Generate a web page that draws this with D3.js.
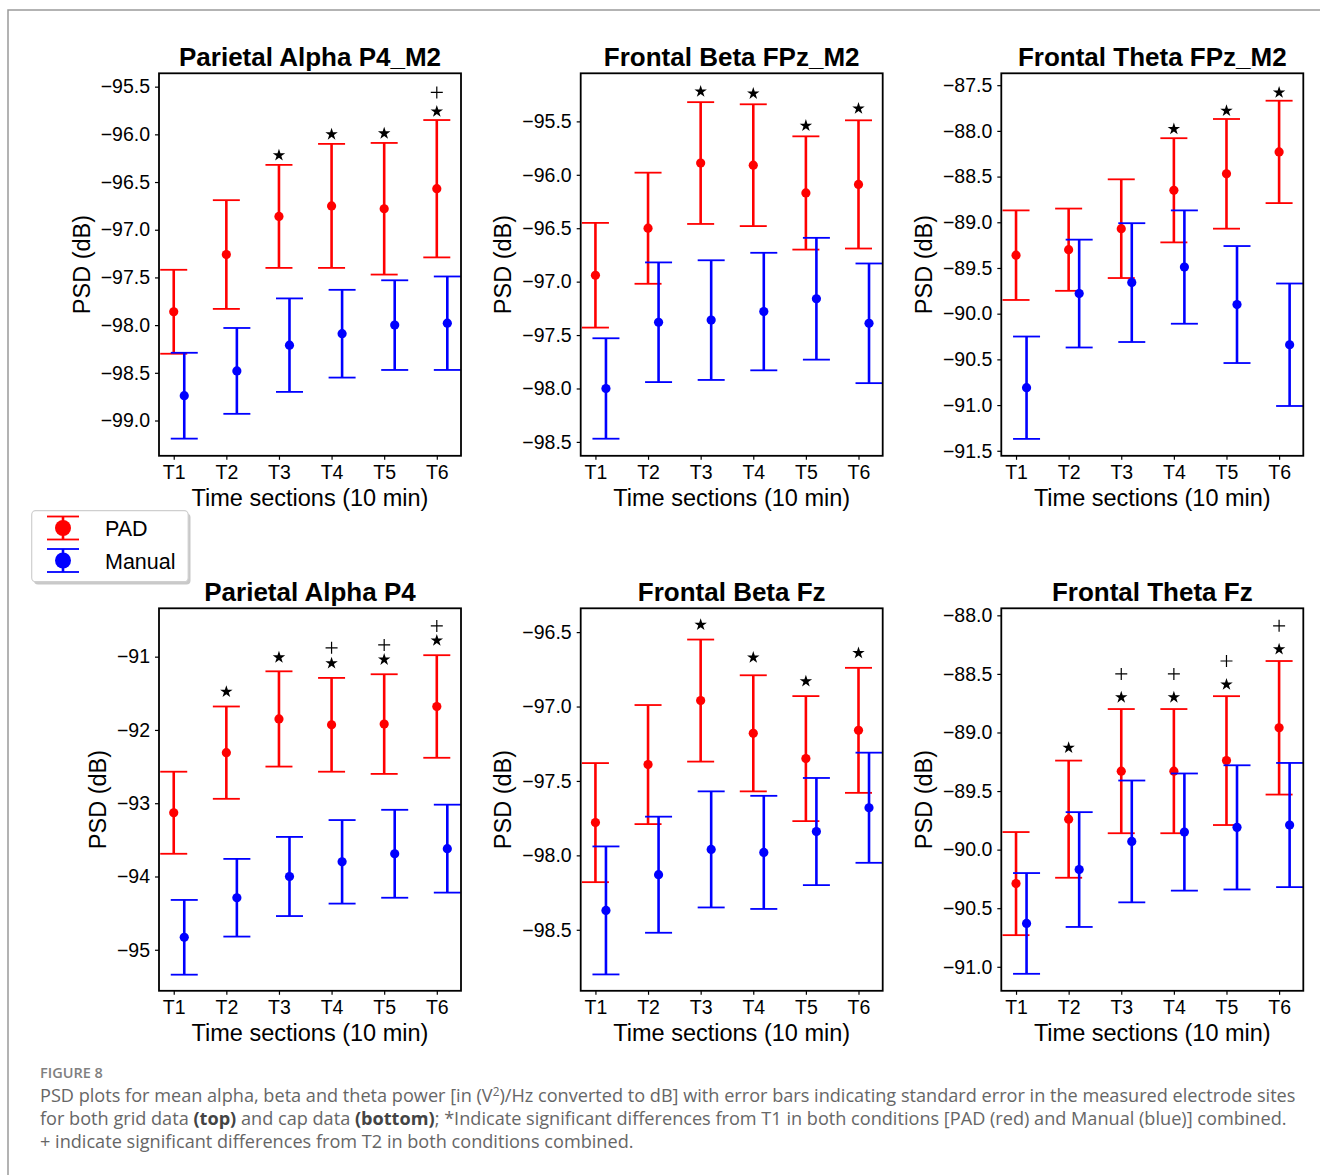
<!DOCTYPE html>
<html lang="en">
<head>
<meta charset="utf-8" />
<title>PSD plots - Figure 8</title>
<style>
  body { margin: 0; padding: 0; background: #fff; }
  .chart text { font-family: 'Liberation Sans', Arial, Helvetica, sans-serif; }
  .caption text { font-family: 'Open Sans', 'Noto Sans', sans-serif; }
</style>
<script src="https://d3js.org/d3.v7.min.js"></script>
</head>
<body>
<div id="chart"></div>
<script>
// time sections on the x axis
const times = ["T1", "T2", "T3", "T4", "T5", "T6"];
const titles = ["Parietal Alpha P4_M2", "Frontal Beta FPz_M2", "Frontal Theta FPz_M2",
                "Parietal Alpha P4", "Frontal Beta Fz", "Frontal Theta Fz"];

// Parietal Alpha P4_M2 (grid)
const p1Pad = [-97.86, -97.26, -96.86, -96.75, -96.78, -96.57];
const p1PadErr = [0.44, 0.57, 0.54, 0.65, 0.69, 0.72];
const p1Man = [-98.74, -98.48, -98.21, -98.09, -98.00, -97.98];
const p1ManErr = [0.45, 0.45, 0.49, 0.46, 0.47, 0.49];
const p1Star = [null, null, -96.22, -96.00, -95.99, -95.76];
const p1Plus = [null, null, null, null, null, -95.56];
const p1Ticks = [-95.5, -96.0, -96.5, -97.0, -97.5, -98.0, -98.5, -99.0];
const p1Domain = [-99.37, -95.36];

// Frontal Beta FPz_M2 (grid)
const p2Pad = [-96.94, -96.50, -95.89, -95.91, -96.17, -96.09];
const p2PadErr = [0.49, 0.52, 0.57, 0.57, 0.53, 0.60];
const p2Man = [-98.00, -97.38, -97.36, -97.28, -97.16, -97.39];
const p2ManErr = [0.47, 0.56, 0.56, 0.55, 0.57, 0.56];
const p2Star = [null, null, -95.22, -95.24, -95.54, -95.38];
const p2Plus = [null, null, null, null, null, null];
const p2Ticks = [-95.5, -96.0, -96.5, -97.0, -97.5, -98.0, -98.5];
const p2Domain = [-98.63, -95.05];

// Frontal Theta FPz_M2 (grid)
const p3Pad = [-89.36, -89.30, -89.07, -88.65, -88.47, -88.23];
const p3PadErr = [0.49, 0.45, 0.54, 0.57, 0.60, 0.56];
const p3Man = [-90.81, -89.78, -89.66, -89.49, -89.90, -90.34];
const p3ManErr = [0.56, 0.59, 0.65, 0.62, 0.64, 0.67];
const p3Star = [null, null, null, -87.98, -87.78, -87.58];
const p3Plus = [null, null, null, null, null, null];
const p3Ticks = [-87.5, -88.0, -88.5, -89.0, -89.5, -90.0, -90.5, -91.0, -91.5];
const p3Domain = [-91.555, -87.37];

// Parietal Alpha P4 (cap)
const p4Pad = [-93.13, -92.31, -91.85, -91.93, -91.92, -91.68];
const p4PadErr = [0.56, 0.63, 0.65, 0.64, 0.68, 0.70];
const p4Man = [-94.83, -94.29, -94.00, -93.80, -93.69, -93.62];
const p4ManErr = [0.51, 0.53, 0.54, 0.57, 0.60, 0.60];
const p4Star = [null, -91.48, -91.01, -91.09, -91.04, -90.78];
const p4Plus = [null, null, null, -90.88, -90.84, -90.58];
const p4Ticks = [-91, -92, -93, -94, -95];
const p4Domain = [-95.56, -90.34];

// Frontal Beta Fz (cap)
const p5Pad = [-97.78, -97.39, -96.96, -97.18, -97.35, -97.16];
const p5PadErr = [0.40, 0.40, 0.41, 0.39, 0.42, 0.42];
const p5Man = [-98.37, -98.13, -97.96, -97.98, -97.84, -97.68];
const p5ManErr = [0.43, 0.39, 0.39, 0.38, 0.36, 0.37];
const p5Star = [null, null, -96.45, -96.67, -96.83, -96.64];
const p5Plus = [null, null, null, null, null, null];
const p5Ticks = [-96.5, -97.0, -97.5, -98.0, -98.5];
const p5Domain = [-98.91, -96.34];

// Frontal Theta Fz (cap)
const p6Pad = [-90.29, -89.74, -89.33, -89.33, -89.24, -88.96];
const p6PadErr = [0.44, 0.50, 0.53, 0.53, 0.55, 0.57];
const p6Man = [-90.63, -90.17, -89.93, -89.85, -89.81, -89.79];
const p6ManErr = [0.43, 0.49, 0.52, 0.50, 0.53, 0.53];
const p6Star = [null, -89.13, -88.70, -88.70, -88.59, -88.29];
const p6Plus = [null, null, -88.50, -88.50, -88.39, -88.09];
const p6Ticks = [-88.0, -88.5, -89.0, -89.5, -90.0, -90.5, -91.0];
const p6Domain = [-91.205, -87.94];

const seriesNames = ["PAD", "Manual"];
const colors = ["#ff0000", "#0000ff"];

const panels = [
  { pad: p1Pad, padErr: p1PadErr, man: p1Man, manErr: p1ManErr, star: p1Star, plus: p1Plus, ticks: p1Ticks, domain: p1Domain, fmt: ".1f" },
  { pad: p2Pad, padErr: p2PadErr, man: p2Man, manErr: p2ManErr, star: p2Star, plus: p2Plus, ticks: p2Ticks, domain: p2Domain, fmt: ".1f" },
  { pad: p3Pad, padErr: p3PadErr, man: p3Man, manErr: p3ManErr, star: p3Star, plus: p3Plus, ticks: p3Ticks, domain: p3Domain, fmt: ".1f" },
  { pad: p4Pad, padErr: p4PadErr, man: p4Man, manErr: p4ManErr, star: p4Star, plus: p4Plus, ticks: p4Ticks, domain: p4Domain, fmt: "d" },
  { pad: p5Pad, padErr: p5PadErr, man: p5Man, manErr: p5ManErr, star: p5Star, plus: p5Plus, ticks: p5Ticks, domain: p5Domain, fmt: ".1f" },
  { pad: p6Pad, padErr: p6PadErr, man: p6Man, manErr: p6ManErr, star: p6Star, plus: p6Plus, ticks: p6Ticks, domain: p6Domain, fmt: ".1f" }
];

const width = 1320, height = 1175;
const colX = [159, 580.7, 1001.3], rowY = [73.3, 608.3];
const W = 302, H = 382.5;
const capHalf = 13.5;

const svg = d3.select("#chart").append("svg")
  .attr("class", "chart")
  .attr("width", width)
  .attr("height", height);

// page frame (only top and left edges show)
svg.append("path")
  .attr("d", `M8,${height} V10 H${width}`)
  .attr("fill", "none")
  .attr("stroke", "#9a9a9a")
  .attr("stroke-width", 1.5);

panels.forEach((p, k) => {
  const left = colX[k % 3], top = rowY[Math.floor(k / 3)];
  const x = d3.scaleLinear().domain([-0.28, 5.46]).range([left, left + W]);
  const y = d3.scaleLinear().domain(p.domain).range([top + H, top]);
  const g = svg.append("g");

  const xa = g.append("g")
    .attr("transform", `translate(0,${top + H})`)
    .call(d3.axisBottom(x).tickValues(d3.range(times.length)).tickFormat(i => times[i]).tickSize(4).tickPadding(5));
  const ya = g.append("g")
    .attr("transform", `translate(${left},0)`)
    .call(d3.axisLeft(y).tickValues(p.ticks).tickFormat(d3.format(p.fmt)).tickSize(4).tickPadding(5));
  [xa, ya].forEach(a => {
    a.select(".domain").remove();
    a.selectAll(".tick line").attr("stroke", "#000").attr("stroke-width", 1.2);
    a.selectAll(".tick text").attr("fill", "#000").style("font-size", "19.5px");
  });

  // y label placed just left of the widest tick label
  let minX = Infinity;
  ya.selectAll(".tick text").each(function() {
    const b = this.getBBox();
    minX = Math.min(minX, left + b.x);
  });
  g.append("text")
    .attr("transform", `translate(${minX - 11},${top + H / 2}) rotate(-90)`)
    .attr("text-anchor", "middle")
    .style("font-size", "23.5px")
    .text("PSD (dB)");

  g.append("text")
    .attr("x", left + W / 2).attr("y", top + H + 50)
    .attr("text-anchor", "middle")
    .style("font-size", "23.5px")
    .text("Time sections (10 min)");

  g.append("text")
    .attr("x", left + W / 2).attr("y", top - 7)
    .attr("text-anchor", "middle")
    .style("font-size", "26px")
    .style("font-weight", "bold")
    .text(titles[k]);

  const series = [
    { mean: p.pad, err: p.padErr, color: colors[0], off: 0 },
    { mean: p.man, err: p.manErr, color: colors[1], off: 0.2 }
  ];
  series.forEach(s => {
    const sg = g.append("g").attr("stroke", s.color);
    const pts = s.mean.map((m, i) => ({ i, m, e: s.err[i] }));
    sg.selectAll("line.bar").data(pts).enter().append("line")
      .attr("x1", d => x(d.i + s.off)).attr("x2", d => x(d.i + s.off))
      .attr("y1", d => y(d.m - d.e)).attr("y2", d => y(d.m + d.e))
      .attr("stroke-width", 2.6);
    sg.selectAll("line.capTop").data(pts).enter().append("line")
      .attr("x1", d => x(d.i + s.off) - capHalf).attr("x2", d => x(d.i + s.off) + capHalf)
      .attr("y1", d => y(d.m + d.e)).attr("y2", d => y(d.m + d.e))
      .attr("stroke-width", 1.8);
    sg.selectAll("line.capBot").data(pts).enter().append("line")
      .attr("x1", d => x(d.i + s.off) - capHalf).attr("x2", d => x(d.i + s.off) + capHalf)
      .attr("y1", d => y(d.m - d.e)).attr("y2", d => y(d.m - d.e))
      .attr("stroke-width", 1.8);
    sg.selectAll("circle").data(pts).enter().append("circle")
      .attr("cx", d => x(d.i + s.off)).attr("cy", d => y(d.m))
      .attr("r", 4.6)
      .attr("fill", s.color).attr("stroke", "none");
  });

  // significance markers
  const star = d3.symbol().type(d3.symbolStar).size(48);
  g.selectAll("path.star")
    .data(p.star.map((v, i) => ({ i, v })).filter(d => d.v !== null))
    .enter().append("path")
    .attr("d", star)
    .attr("transform", d => `translate(${x(d.i)},${y(d.v)})`)
    .attr("fill", "#000");
  g.selectAll("path.plus")
    .data(p.plus.map((v, i) => ({ i, v })).filter(d => d.v !== null))
    .enter().append("path")
    .attr("d", d => `M${x(d.i) - 6},${y(d.v)} h12 M${x(d.i)},${y(d.v) - 6} v12`)
    .attr("stroke", "#000").attr("stroke-width", 1.2).attr("fill", "none");

  // axes frame
  g.append("rect")
    .attr("x", left).attr("y", top).attr("width", W).attr("height", H)
    .attr("fill", "none").attr("stroke", "#000").attr("stroke-width", 1.8);
});

// legend
const lg = svg.append("g");
lg.append("rect")
  .attr("x", 34).attr("y", 513.5).attr("width", 156.5).attr("height", 71)
  .attr("rx", 4).attr("fill", "#c8c8c8");
lg.append("rect")
  .attr("x", 31.7).attr("y", 510.7).attr("width", 156.5).attr("height", 71)
  .attr("rx", 4).attr("fill", "#fff").attr("stroke", "#cfcfcf").attr("stroke-width", 1.2);
const legendY = [528, 560.5];
seriesNames.forEach((name, i) => {
  const cy = legendY[i];
  const e = lg.append("g").attr("stroke", colors[i]);
  e.append("line").attr("x1", 63).attr("x2", 63).attr("y1", cy - 11.5).attr("y2", cy + 11.5).attr("stroke-width", 2.6);
  e.append("line").attr("x1", 47).attr("x2", 79).attr("y1", cy - 11.5).attr("y2", cy - 11.5).attr("stroke-width", 1.8);
  e.append("line").attr("x1", 47).attr("x2", 79).attr("y1", cy + 11.5).attr("y2", cy + 11.5).attr("stroke-width", 1.8);
  e.append("circle").attr("cx", 63).attr("cy", cy).attr("r", 8).attr("fill", colors[i]).attr("stroke", "none");
  lg.append("text").attr("x", 105).attr("y", cy + 8).style("font-size", "21.5px").text(name);
});

// caption
const cap = svg.append("g").attr("class", "caption").attr("fill", "#666");
cap.append("text").attr("x", 40).attr("y", 1078)
  .style("font-size", "14.5px").style("font-weight", "600").attr("fill", "#808080")
  .text("FIGURE 8");

const line1 = cap.append("text").attr("x", 40).attr("y", 1102).style("font-size", "17px");
line1.append("tspan").text("PSD plots for mean alpha, beta and theta power [in (V");
line1.append("tspan").attr("dy", -6).style("font-size", "11px").text("2");
line1.append("tspan").attr("dy", 6).text(")/Hz converted to dB] with error bars indicating standard error in the measured electrode sites");

const line2 = cap.append("text").attr("x", 40).attr("y", 1125).style("font-size", "17px");
line2.append("tspan").text("for both grid data ");
line2.append("tspan").style("font-weight", "bold").attr("fill", "#444").text("(top)");
line2.append("tspan").text(" and cap data ");
line2.append("tspan").style("font-weight", "bold").attr("fill", "#444").text("(bottom)");
line2.append("tspan").text("; *Indicate significant differences from T1 in both conditions [PAD (red) and Manual (blue)] combined.");

const line3 = cap.append("text").attr("x", 40).attr("y", 1148).style("font-size", "17px")
  .text("+ indicate significant differences from T2 in both conditions combined.");

// fit caption width to the reference line length
const w1 = line1.node().getComputedTextLength();
const fs = 17 * 1256 / w1;
[line1, line2, line3].forEach(t => t.style("font-size", fs + "px"));
line1.selectAll("tspan").filter((d, i) => i === 1).style("font-size", (fs * 0.65) + "px");
</script>
</body>
</html>
